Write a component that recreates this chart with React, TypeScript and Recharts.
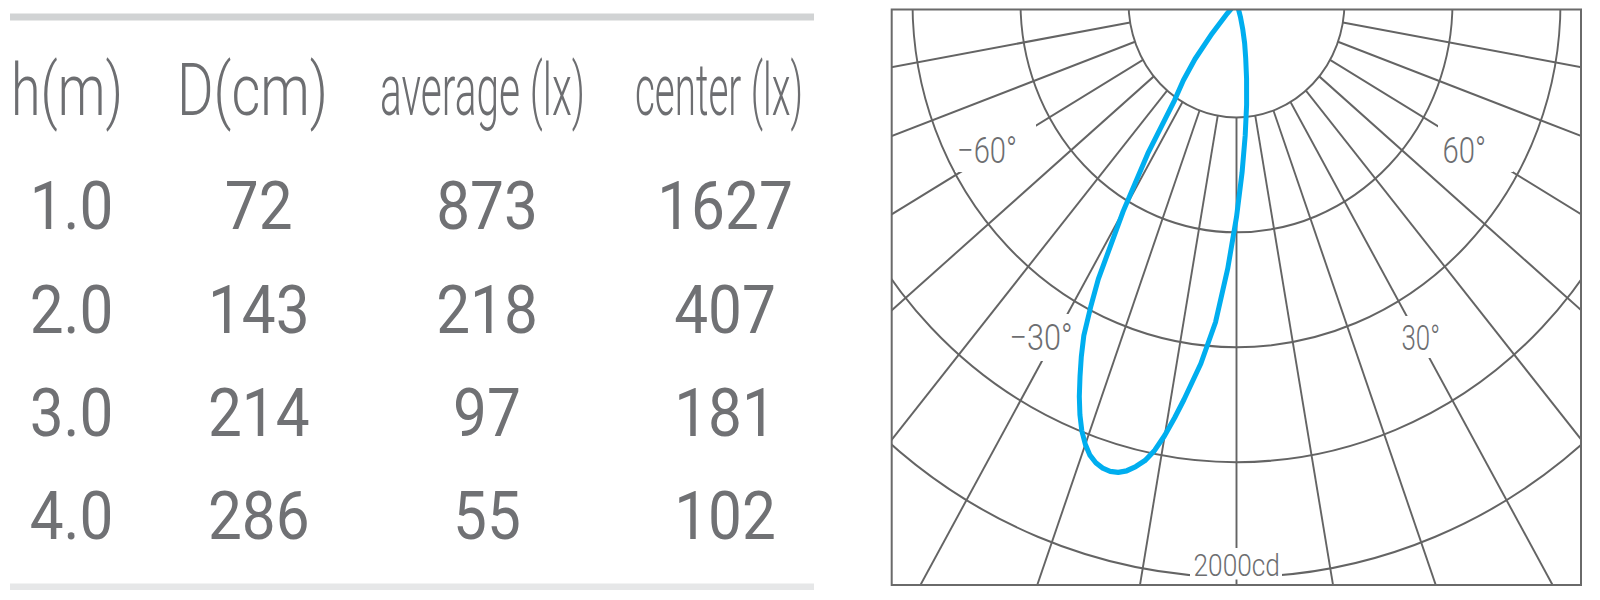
import { useLayoutEffect, useRef, useState } from "react"
import { RadarChart, Radar, PolarGrid, PolarAngleAxis, PolarRadiusAxis } from "recharts"

// photometric table
const headers = ["h(m)", "D(cm)", "average (lx)", "center (lx)"]
const heights = ["1.0", "2.0", "3.0", "4.0"]
const diameters = [72, 143, 214, 286]
const averageLux = [873, 218, 97, 55]
const centerLux = [1627, 407, 181, 102]

// luminous intensity curve (deg from nadir, cd)
const beamAngles = [-44, -42, -40, -38, -36, -34, -32, -30, -28, -27, -26, -25, -24, -23, -22, -21, -20, -19, -18, -17, -16, -15, -14, -13, -12, -11, -10, -9, -8, -6, -4, -2, 0, 2, 4, 6, 8, 10, 12, 14, 16, 18, 20]
const beamCandela = [0, 50, 140, 250, 335, 410, 620, 840, 1090, 1190, 1290, 1360, 1425, 1490, 1548, 1598, 1637, 1667, 1685, 1695, 1698, 1693, 1680, 1658, 1630, 1588, 1530, 1463, 1395, 1264, 1116, 926, 747, 592, 463, 358, 268, 196, 145, 95, 55, 20, 0]

const ringValues = [400, 800, 1200, 1600, 2000]
const gridAngles = [-80, -70, -60, -50, -40, -30, -20, -10, 0, 10, 20, 30, 40, 50, 60, 70, 80]
const angleLabels = ["−60°", "60°", "−30°", "30°"]
const ringLabel = "2000cd"

const beamData = beamAngles.map((deg, i) => ({ deg, cd: beamCandela[i] }))

const TEXT = "#6d6e71"
const LINE = "#646464"
const FONT = "Roboto, 'Liberation Sans', sans-serif"

// table layout
const headerX = [11, 177, 380, 635]
const headerW = [112, 151, 205, 168]
const colCenter = [71.5, 258.7, 487, 725]
const rowBase = [229.3, 332.7, 436, 539.3]

// label layout (page px)
const labelPos = [
  { x: 957, y: 162.7, w: 60, fs: 36.5, box: [955, 124, 81, 48] },
  { x: 1442.5, y: 162.7, w: 43.5, fs: 36.5, box: [1438, 124, 75, 48] },
  { x: 1009.5, y: 350, w: 63, fs: 36.5, box: [1007, 314, 69, 47] },
  { x: 1401.5, y: 349.5, w: 38.5, fs: 35, box: [1399, 316, 44, 42] },
]

const SY = 1.064

// squeezes a text to a given width by measuring it
function FitText({ x, y, width, size, weight = 400, children }: { x: number; y: number; width: number; size: number; weight?: number; children: string }) {
  const ref = useRef<SVGTextElement>(null)
  const [sx, setSx] = useState(0.8)
  useLayoutEffect(() => {
    const n = ref.current ? ref.current.getComputedTextLength() : 0
    if (n > 0) setSx(width / n)
  }, [width, children, size])
  return (
    <text ref={ref} transform={`translate(${x},${y}) scale(${sx},1)`} fontSize={size} fontFamily={FONT} fontWeight={weight} fill={TEXT}>
      {children}
    </text>
  )
}

function PolarDiagram() {
  return (
    <div style={{ position: "absolute", left: 0, top: 0, width: 1600, height: 564, transform: `scaleY(${SY})`, transformOrigin: "0 0" }}>
      <RadarChart
        width={1600}
        height={564}
        data={beamData}
        cx={1236.5}
        cy={2.35}
        innerRadius={108}
        outerRadius={675}
        startAngle={-270}
        endAngle={90}
        margin={{ top: 0, right: 0, bottom: 0, left: 0 }}
      >
        <PolarGrid gridType="circle" stroke={LINE} strokeWidth={1.9} polarAngles={gridAngles.map((a) => a - 90)} />
        <PolarAngleAxis type="number" dataKey="deg" domain={[-180, 180]} ticks={gridAngles} tick={false} axisLine={false} tickLine={false} />
        <PolarRadiusAxis type="number" domain={[400, 2500]} allowDataOverflow ticks={ringValues} tick={false} axisLine={false} />
        <Radar
          dataKey="cd"
          stroke="#00aeef"
          strokeWidth={5}
          strokeLinejoin="round"
          fill="none"
          fillOpacity={0}
          dot={false}
          isAnimationActive={false}
        />
      </RadarChart>
    </div>
  )
}

function Overlay() {
  return (
    <svg width={1600} height={600} style={{ position: "absolute", left: 0, top: 0 }}>
      <rect x={0} y={0} width={891.7} height={600} fill="#fff" />
      <rect x={1581} y={0} width={19} height={600} fill="#fff" />
      <rect x={0} y={0} width={1600} height={9.5} fill="#fff" />
      <rect x={0} y={585} width={1600} height={15} fill="#fff" />
      <rect x={891.7} y={9.5} width={689.3} height={575.5} fill="none" stroke="#6a6a6a" strokeWidth={2} />
      {angleLabels.map((t, i) => {
        const p = labelPos[i]
        return (
          <g key={t}>
            <rect x={p.box[0]} y={p.box[1]} width={p.box[2]} height={p.box[3]} fill="#fff" />
            <FitText x={p.x} y={p.y} width={p.w} size={p.fs} weight={300}>
              {t}
            </FitText>
          </g>
        )
      })}
      <rect x={1190} y={548} width={92} height={31.5} fill="#fff" />
      <FitText x={1193.5} y={576} width={86.5} size={32} weight={300}>
        {ringLabel}
      </FitText>
    </svg>
  )
}

function Table() {
  const cols = [heights, diameters, averageLux, centerLux]
  return (
    <svg width={830} height={600} style={{ position: "absolute", left: 0, top: 0 }}>
      <rect x={10} y={13.5} width={804} height={7} fill="#d1d3d4" />
      <rect x={10} y={583.5} width={804} height={6.5} fill="#e6e7e8" />
      {headers.map((h, i) => (
        <FitText key={h} x={headerX[i]} y={115} width={headerW[i]} size={72} weight={300}>
          {h}
        </FitText>
      ))}
      {cols.map((col, c) =>
        col.map((v, r) => (
          <text
            key={`${c}-${r}`}
            transform={`translate(${colCenter[c]},${rowBase[r]}) scale(0.9,1)`}
            textAnchor="middle"
            fontSize={67}
            fontFamily={FONT}
            fontWeight={400}
            fill="#707174"
          >
            {v}
          </text>
        ))
      )}
    </svg>
  )
}

export default function App() {
  return (
    <div style={{ position: "absolute", left: 0, top: 0, width: 1600, height: 600, overflow: "hidden", background: "#fff" }}>
      <PolarDiagram />
      <Overlay />
      <Table />
    </div>
  )
}
